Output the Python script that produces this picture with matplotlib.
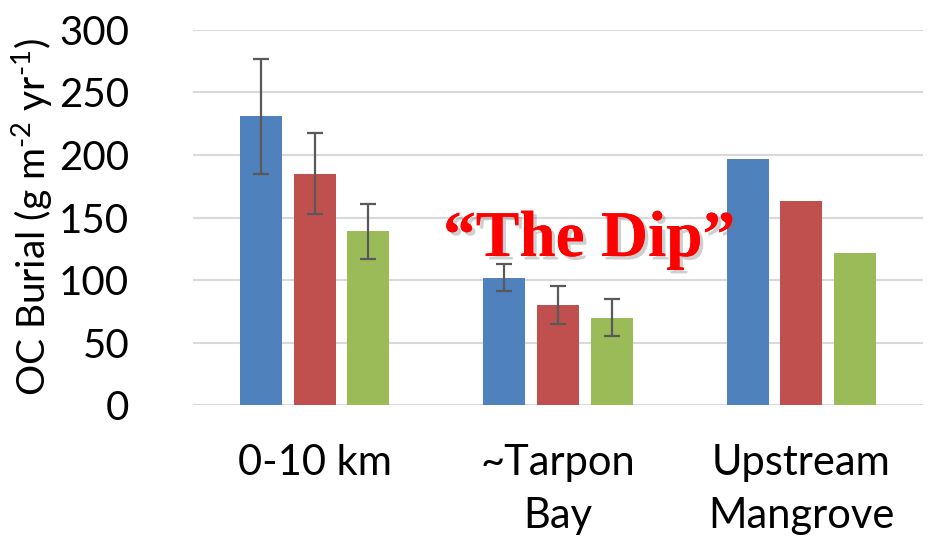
import matplotlib
matplotlib.use('Agg')
import matplotlib.pyplot as plt
import matplotlib.patheffects as pe
import numpy as np

# Data
categories = ['0-10 km', '~Tarpon\nBay', 'Upstream\nMangrove']
series_blue = [231, 102, 197]
series_red = [185, 80, 163]
series_green = [139, 70, 122]
err_blue = [46, 10.5, 0]
err_red = [32.5, 15.5, 0]
err_green = [22, 15, 0]
has_err = [True, True, False]

colors = ['#4F81BD', '#C0504D', '#9BBB59']

plt.rcParams['font.family'] = ['Lato', 'DejaVu Sans']
plt.rcParams['mathtext.fontset'] = 'custom'
plt.rcParams['mathtext.rm'] = 'Lato'

fig = plt.figure(figsize=(9.32, 5.48), dpi=100)
ax = fig.add_axes([0.2071, 0.2609, 0.7832, 0.6844])

x = np.arange(len(categories))
width = 0.1725
step = 0.22
for i, (vals, errs, col) in enumerate(zip([series_blue, series_red, series_green],
                                          [err_blue, err_red, err_green], colors)):
    pos = x + (i - 1) * step
    ax.bar(pos, vals, width=width, color=col, zorder=2)
    # error bars only where the source chart has them
    idx = [k for k in range(len(categories)) if has_err[k]]
    ax.errorbar(pos[idx], np.array(vals)[idx], yerr=np.array(errs)[idx], fmt='none',
                ecolor='#595959', elinewidth=1.6, capsize=6, capthick=1.6, zorder=3)

ax.set_xlim(-0.5, 2.5)
ax.set_ylim(0, 300)
ax.set_yticks(np.arange(0, 301, 50))
ax.yaxis.grid(True, color='#D9D9D9', linewidth=1.5, zorder=0)
ax.set_axisbelow(True)
for s in ax.spines.values():
    s.set_visible(False)
ax.tick_params(axis='both', length=0, labelsize=29)
ax.tick_params(axis='y', pad=46)
ax.tick_params(axis='x', labelsize=30, pad=28)
ax.set_xticks(x)
ax.set_xticklabels(categories, linespacing=1.5)
ax.set_ylabel('OC Burial (g m$^{\\text{-2}}$ yr$^{\\text{-1}}$)', fontsize=28, labelpad=2)

ax.text(1.128, 132, '\u201cThe Dip\u201d', color='#FF0000', fontsize=47, fontweight='bold',
        family='Liberation Serif', ha='center', va='center', zorder=4,
        path_effects=[pe.withSimplePatchShadow(offset=(2.5, -2.5), shadow_rgbFace='#777777', alpha=0.35),
                      pe.Normal()])

fig.savefig('out.png', dpi=100)
